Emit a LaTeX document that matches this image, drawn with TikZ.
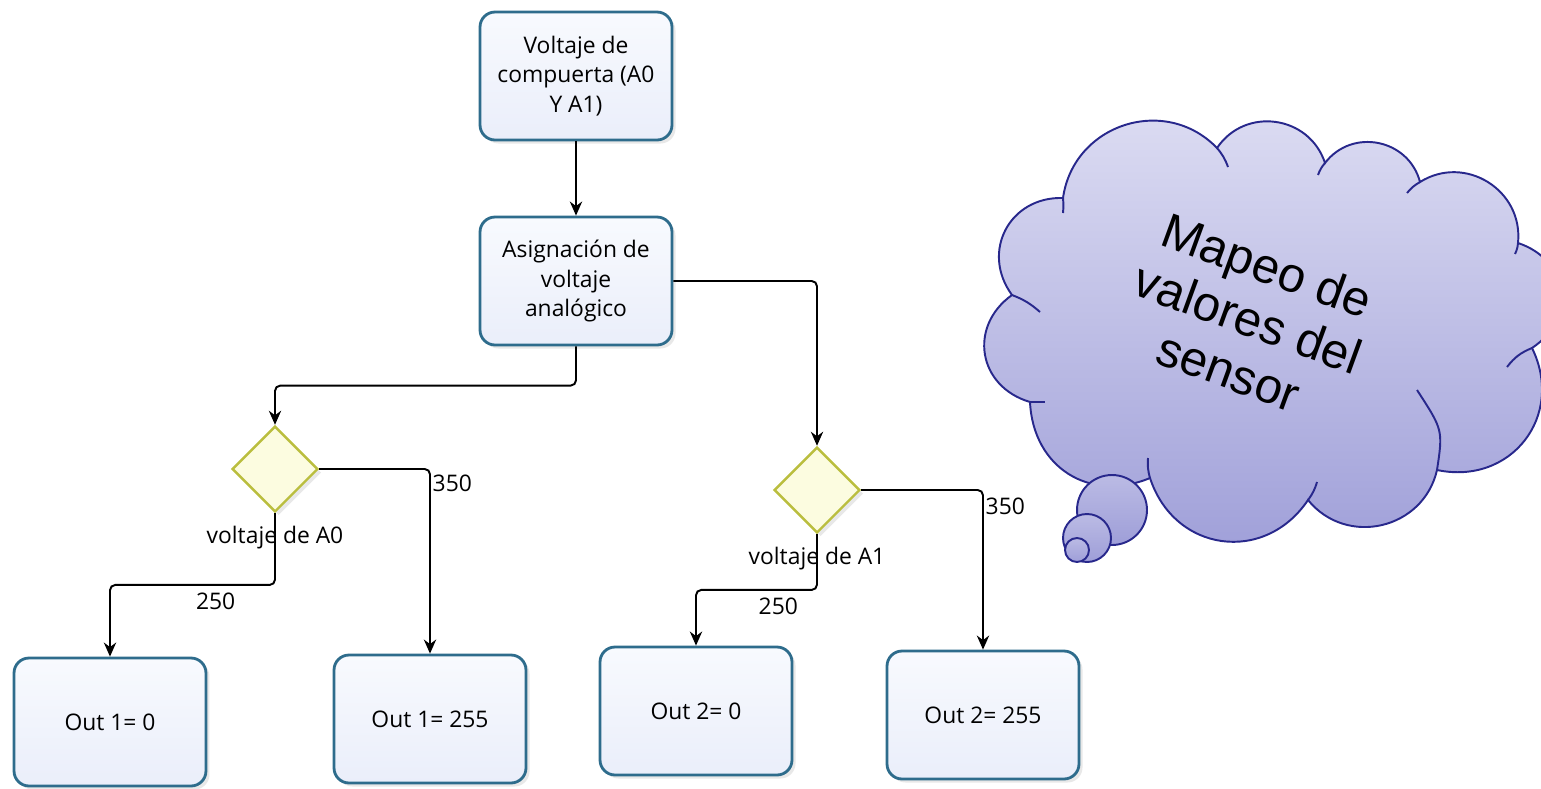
\documentclass[tikz,border=0pt]{standalone}
\usepackage{fontspec}
\setmainfont{Open Sans}
\newfontfamily\cloudfont{Liberation Sans}
\usetikzlibrary{arrows.meta}
\usetikzlibrary{shapes.geometric}
\usetikzlibrary{calc,positioning,shadows}

\definecolor{boxline}{RGB}{46,108,140}
\definecolor{boxtop}{RGB}{248,250,254}
\definecolor{boxbot}{RGB}{234,238,250}
\definecolor{decline}{RGB}{186,190,62}
\definecolor{decfill}{RGB}{252,252,224}
\definecolor{cloudline}{RGB}{40,40,140}
\definecolor{cloudtop}{RGB}{222,222,243}
\definecolor{cloudbot}{RGB}{158,158,216}

\tikzset{puff/.style={bend left=64,looseness=1.18}}

\begin{document}
\begin{tikzpicture}[x=0.02cm,y=-0.02cm]
\useasboundingbox (0,0) rectangle (1541,788);

\begin{scope}[every node/.style={rectangle,rounded corners=0.3cm,draw=boxline,line width=1.6pt,
              top color=boxtop,bottom color=boxbot,minimum width=3.84cm,minimum height=2.56cm,
              align=center,font=\fontsize{13}{17}\selectfont,
              drop shadow={shadow xshift=2pt,shadow yshift=-2pt,opacity=0.18}}]
    \node (volt) at (576,76) {Voltaje de\\compuerta (A0\\Y A1)};
    \node (asig) at (576,281) {Asignación de\\voltaje\\analógico};
    \node (o1a) at (110,722) {Out 1= 0};
    \node (o1b) at (430,719) {Out 1= 255};
    \node (o2a) at (696,711) {Out 2= 0};
    \node (o2b) at (983,715) {Out 2= 255};
\end{scope}

\begin{scope}[every node/.style={diamond,draw=decline,fill=decfill,line width=1.4pt,
              minimum size=1.72cm,inner sep=0pt,
              drop shadow={shadow xshift=2pt,shadow yshift=-2pt,opacity=0.18}}]
    \node (d1) at (275,469) {};
    \node (d2) at (817,490) {};
\end{scope}

\begin{scope}[>={Stealth[black,length=8pt,width=7pt]},
              every node/.style={font=\fontsize{13}{17}\selectfont,inner sep=1pt},
              every edge/.style={draw=black,line width=1.1pt},
              line width=1.1pt,rounded corners=3pt]
    \path [->] (volt) edge (asig);
    \draw [->] (asig.south) |- ($(asig.south)!.5!(d1.north)$) -| (d1.north);
    \draw [->] (asig.east) -| (d2.north);
    \draw [->] (d1.east) -| node[pos=0.54,anchor=west] (t350a) {350} (o1b.north);
    \draw [->] (d1.south) |- node[pos=0.86,below=3pt] (t250a) {250} ($(d1.south)!.5!(o1a.north)$) -| (o1a.north);
    \draw [->] (d2.east) -| node[pos=0.55,anchor=west] (t350b) {350} (o2b.north);
    \draw [->] (d2.south) |- node[pos=0.82,below=3pt] (t250b) {250} ($(d2.south)!.5!(o2a.north)$) -| (o2a.north);
    \node [below=6pt of d1] (v0) {voltaje de A0};
    \node [below=6pt of d2] (v1) {voltaje de A1};
\end{scope}

% nube de pensamiento
\coordinate (j1) at (1063,198);
\coordinate (j2) at (1217,148);
\coordinate (j3) at (1325,163);
\coordinate (j4) at (1420,182);
\coordinate (j5) at (1518,243);
\coordinate (j6) at (1532,348);
\coordinate (j7) at (1437,470);
\coordinate (j8) at (1308,500);
\coordinate (j9) at (1150,478);
\coordinate (j10) at (1030,402);
\coordinate (j11) at (1012,295);
\path [draw=cloudline,line width=1.1pt,top color=cloudtop,bottom color=cloudbot]
    (j1) to[puff] (j2) to[puff] (j3) to[puff] (j4) to[puff] (j5)
    to[puff,looseness=1.3] (j6) to[puff,looseness=1.25] (j7) to[puff] (j8)
    to[puff,looseness=1.25] (j9) to[puff,bend left=55] (j10)
    to[puff,looseness=1.28] (j11) to[puff,looseness=1.25] cycle;
\begin{scope}[draw=cloudline,line width=1.1pt]
    \draw (j1) to[bend left=5] (1063,213);
    \draw (j2) to[bend left=10] (1228,167);
    \draw (j3) to[bend right=10] (1318,175);
    \draw (j4) to[bend right=10] (1407,193);
    \draw (j5) to[bend left=10] (1515,254);
    \draw (j6) to[bend right=15] (1507,367);
    \draw (j7) .. controls (1443,430) .. (1417,390);
    \draw (j8) to[bend right=10] (1317,482);
    \draw (j9) to[bend left=10] (1148,458);
    \draw (j10) -- (1045,402);
    \draw (j11) to[bend left=10] (1040,312);
\end{scope}
\begin{scope}[every node/.style={circle,draw=cloudline,line width=1.1pt,top color=cloudtop!45!cloudbot,
              bottom color=cloudbot,inner sep=0pt}]
    \node [minimum size=1.4cm] (bur1) at (1112,510) {};
    \node [minimum size=0.96cm] (bur2) at (1087,538) {};
    \node [minimum size=0.48cm] (bur3) at (1077,550) {};
\end{scope}
\node [rotate=-20,align=center,font=\cloudfont\fontsize{28}{32}\selectfont] (nubetxt) at (1248,318)
      {Mapeo de\\valores del\\sensor};
\end{tikzpicture}
\end{document}
